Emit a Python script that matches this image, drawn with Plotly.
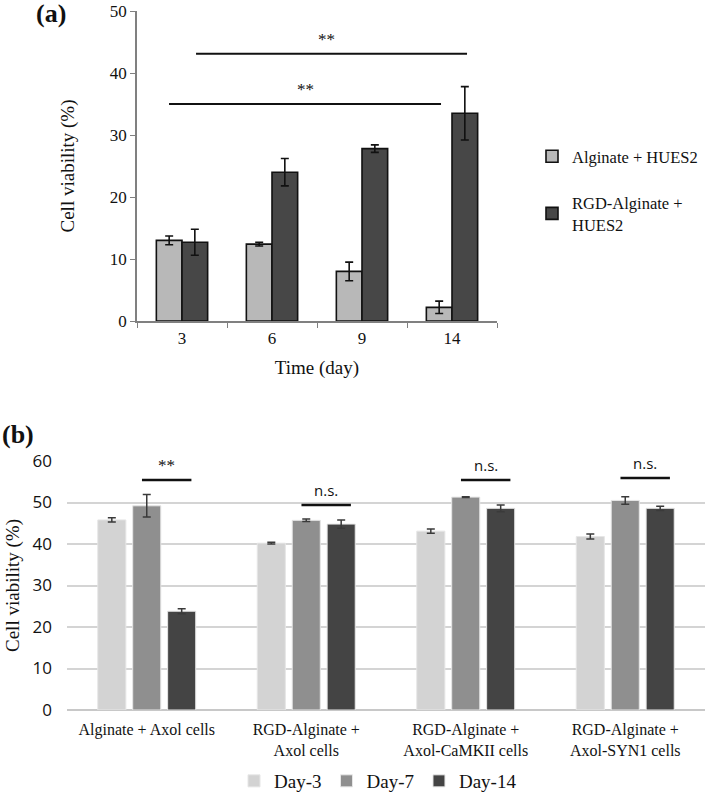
import plotly.graph_objects as go

# ---------- Panel (a) data ----------
days_a = ["3", "6", "9", "14"]
alg_hues2 = [13.0, 12.4, 8.0, 2.2]
alg_hues2_err = [0.7, 0.3, 1.5, 1.0]
rgd_hues2 = [12.7, 24.0, 27.8, 33.5]
rgd_hues2_err = [2.1, 2.2, 0.6, 4.3]

# ---------- Panel (b) data ----------
groups_b = ["Alginate + Axol cells", "RGD-Alginate +<br>Axol cells",
            "RGD-Alginate +<br>Axol-CaMKII cells", "RGD-Alginate +<br>Axol-SYN1 cells"]
day3 = [45.8, 40.2, 43.1, 41.8]
day3_err = [0.5, 0.2, 0.5, 0.6]
day7 = [49.2, 45.7, 51.3, 50.5]
day7_err = [2.7, 0.3, 0.1, 0.9]
day14 = [23.8, 44.8, 48.6, 48.6]
day14_err = [0.6, 1.0, 0.8, 0.5]
sig_b = ["**", "n.s.", "n.s.", "n.s."]
sig_b_y = [55.4, 49.4, 55.4, 55.9]

W, H = 709, 795
SERIF = "Liberation Serif"
SANS = "Open Sans"


def px(xp):
    return xp / W


def py(yp):
    return 1 - yp / H


xa = list(range(len(days_a)))
xb = list(range(len(groups_b)))

fig = go.Figure()

# Panel (a) bars
bw_a = 0.285
fig.add_trace(go.Bar(
    x=xa, y=alg_hues2, width=bw_a, offset=-bw_a, name="Alginate + HUES2",
    marker=dict(color="#b8b8b8", line=dict(color="#111111", width=1.6)),
    error_y=dict(type="data", array=alg_hues2_err, color="#111111", thickness=1.6, width=4),
    xaxis="x", yaxis="y", legend="legend", legendgroup="a1"))
fig.add_trace(go.Bar(
    x=xa, y=rgd_hues2, width=bw_a, offset=0, name="RGD-Alginate +<br>HUES2",
    marker=dict(color="#474747", line=dict(color="#111111", width=1.6)),
    error_y=dict(type="data", array=rgd_hues2_err, color="#111111", thickness=1.6, width=4),
    xaxis="x", yaxis="y", legend="legend", legendgroup="a2"))

# Panel (b) bars
bw_b = 0.176
step_b = 0.219
cols_b = ["#d3d3d3", "#8f8f8f", "#444444"]
names_b = ["Day-3", "Day-7", "Day-14"]
vals_b = [day3, day7, day14]
errs_b = [day3_err, day7_err, day14_err]
for k in range(3):
    fig.add_trace(go.Bar(
        x=xb, y=vals_b[k], width=bw_b, offset=(k - 1) * step_b - bw_b / 2, name=names_b[k],
        marker=dict(color=cols_b[k], line=dict(color="#e6e6e6", width=1)),
        error_y=dict(type="data", array=errs_b[k], color="#3a3a3a", thickness=1.5, width=4),
        xaxis="x2", yaxis="y2", legend="legend2"))

shapes = []
annots = []
# significance in (a)
shapes.append(dict(type="line", xref="x", yref="y", x0=0.156, x1=3.167, y0=43.1, y1=43.1,
                   line=dict(color="#111111", width=2)))
shapes.append(dict(type="line", xref="x", yref="y", x0=-0.144, x1=2.878, y0=35.0, y1=35.0,
                   line=dict(color="#111111", width=2)))
annots.append(dict(text="**", xref="x", yref="y", x=1.61, y=43.6, yanchor="bottom",
                   showarrow=False, font=dict(family=SERIF, size=17, color="#111111")))
annots.append(dict(text="**", xref="x", yref="y", x=1.37, y=35.5, yanchor="bottom",
                   showarrow=False, font=dict(family=SERIF, size=17, color="#111111")))
# significance in (b)
for i in xb:
    shapes.append(dict(type="line", xref="x2", yref="y2", x0=i - 0.03, x1=i + 0.28,
                       y0=sig_b_y[i], y1=sig_b_y[i], line=dict(color="#111111", width=2.5)))
    annots.append(dict(text=sig_b[i], xref="x2", yref="y2", x=i + 0.125, y=sig_b_y[i] + 0.8,
                       yanchor="bottom", showarrow=False,
                       font=dict(family=SERIF if sig_b[i] == "**" else SANS,
                                 size=17 if sig_b[i] == "**" else 15, color="#111111")))

annots.append(dict(text="<b>(a)</b>", xref="paper", yref="paper", x=px(34), y=1, yshift=3,
                   xanchor="left", yanchor="top", showarrow=False,
                   font=dict(family=SERIF, size=26, color="#111111")))
annots.append(dict(text="<b>(b)</b>", xref="paper", yref="paper", x=0, y=py(418),
                   xanchor="left", yanchor="top", showarrow=False,
                   font=dict(family=SERIF, size=26, color="#111111")))

fig.update_layout(
    width=W, height=H, margin=dict(l=0, r=0, t=0, b=0, autoexpand=False),
    paper_bgcolor="white", plot_bgcolor="white",
    barmode="overlay", showlegend=True,
    font=dict(family=SERIF, color="#111111"),
    shapes=shapes, annotations=annots,
    xaxis=dict(domain=[px(137), px(497)], range=[-0.5, 3.5], tickvals=xa, ticktext=days_a,
               ticks="", showline=True, linecolor="#808080", linewidth=1.5,
               minor=dict(ticks="outside", tick0=-0.5, dtick=1, ticklen=5, tickcolor="#808080"),
               tickfont=dict(family=SERIF, size=17, color="#111111"), ticklabelstandoff=1,
               title=dict(text="Time (day)", font=dict(family=SERIF, size=19, color="#111111"),
                          standoff=14),
               showgrid=False, zeroline=False, anchor="y", automargin=False),
    yaxis=dict(domain=[py(321), py(11)], range=[0, 50], tickvals=[0, 10, 20, 30, 40, 50],
               ticks="outside", ticklen=5, tickcolor="#808080", showline=True,
               linecolor="#808080", linewidth=1.5,
               tickfont=dict(family=SERIF, size=17, color="#111111"),
               title=dict(text="Cell viability (%)", font=dict(family=SERIF, size=19, color="#111111"),
                          standoff=30),
               showgrid=False, zeroline=False, anchor="x", automargin=False),
    xaxis2=dict(domain=[px(67), px(705)], range=[-0.5, 3.5], tickvals=xb, ticktext=groups_b,
                ticks="", showline=False, showgrid=False, zeroline=False, ticklabelstandoff=8,
                tickfont=dict(family=SERIF, size=16, color="#111111"), anchor="y2", automargin=False),
    yaxis2=dict(domain=[py(710), py(461)], range=[0, 60], dtick=10,
                showgrid=True, gridcolor="#d4d4d4", gridwidth=1.5, zeroline=True,
                zerolinecolor="#c8c8c8", zerolinewidth=1.5, showline=False, ticks="",
                ticklabelstandoff=14,
                tickfont=dict(family=SANS, size=17, color="#111111"),
                title=dict(text="Cell viability (%)", font=dict(family=SERIF, size=19, color="#111111"),
                           standoff=7),
                anchor="x2", automargin=False),
    legend=dict(x=px(532), y=py(139), xanchor="left", yanchor="top",
                font=dict(family=SERIF, size=16.5, color="#111111"),
                tracegroupgap=22, itemwidth=30, bgcolor="rgba(0,0,0,0)"),
    legend2=dict(orientation="h", x=px(378), y=py(800), xanchor="center",
                 yanchor="bottom", font=dict(family=SERIF, size=19, color="#111111"),
                 itemwidth=30, bgcolor="rgba(0,0,0,0)"),
)

# remove the default 8px page margin so the figure fills the window exactly
fig.write_html("out.html", config={"displayModeBar": False},
               post_script="document.body.style.margin='0';")
